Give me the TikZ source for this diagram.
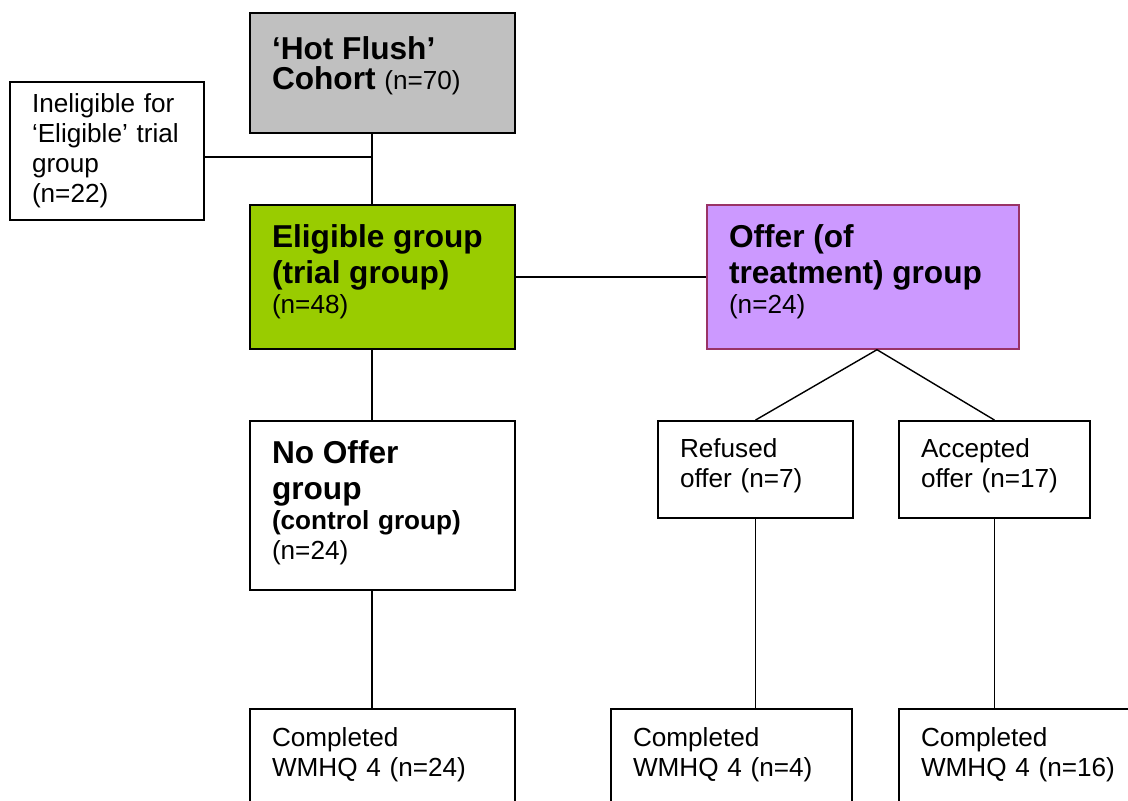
\documentclass[tikz,border=0pt]{standalone}
\usepackage{fontspec}
\setmainfont{Liberation Sans}
\usetikzlibrary{positioning}
\newcommand{\hdfont}{\fontsize{22.5}{25.6}\selectfont\bfseries}
\newcommand{\txfont}{\fontsize{18.6}{21.3}\selectfont\mdseries}
\definecolor{cohortgrey}{HTML}{C0C0C0}
\definecolor{trialgreen}{HTML}{99CC00}
\definecolor{offerviolet}{HTML}{CC99FF}
\definecolor{offerrim}{HTML}{993366}

\begin{document}
\begin{tikzpicture}
	\tikzstyle{box} = [draw=black, line width=1.3pt, fill=white, align=left, inner xsep=0.55cm, inner ysep=0, font=\txfont]
	\tikzstyle{lift} = [execute at end node={\endgraf\vspace*{#1}}]
	\tikzstyle{line} = [draw, line width=1pt]
	\useasboundingbox (0,0) rectangle (28.2,20);
	\clip (0,0) rectangle (28.2,20);
	% groups
	\node [box, lift=0.35cm, fill=cohortgrey, text width=5.525cm, minimum height=3cm] (v1) at (9.5625,18.175) {\hdfont ‘Hot Flush’\\Cohort {\txfont (n=70)}};
	\node [box, text width=3.75cm, minimum height=3.45cm] (v2) at (2.675,16.225) {Ineligible for\\‘Eligible’ trial\\group\\(n=22)};
	\node [box, lift=0.25cm, fill=trialgreen, text width=5.525cm, minimum height=3.6cm] (v3) at (9.5625,13.075) {\hdfont Eligible group\\(trial group)\\\txfont (n=48)};
	\node [box, lift=0.25cm, fill=offerviolet, draw=offerrim, line width=1pt, text width=6.7cm, minimum height=3.6cm] (v4) at (21.575,13.075) {\hdfont Offer (of\\treatment) group\\\txfont (n=24)};
	\node [box, lift=0.15cm, text width=5.525cm, minimum height=4.225cm] (v5) at (9.5625,7.3625) {\hdfont No Offer\\group\\\txfont\bfseries (control group)\\\mdseries (n=24)};
	\node [box, lift=0.2cm, text width=3.775cm, minimum height=2.425cm] (v6) at (18.8875,8.2625) {Refused\\offer (n=7)};
	\node [box, lift=0.2cm, text width=3.675cm, minimum height=2.425cm] (v7) at (24.8625,8.2625) {Accepted\\offer (n=17)};
	% completed questionnaire
	\node [box, lift=0.15cm, text width=5.525cm, minimum height=2.45cm] (v8) at (9.5625,1.05) {Completed\\WMHQ 4 (n=24)};
	\node [box, lift=0.15cm, text width=4.925cm, minimum height=2.45cm] (v9) at (18.2875,1.05) {Completed\\WMHQ 4 (n=4)};
	\node [box, lift=0.15cm, text width=4.925cm, minimum height=2.45cm] (v10) at (25.4875,1.05) {Completed\\WMHQ 4 (n=16)};
	% links
	\coordinate (v11) at (9.3,16.075);
	\coordinate (v12) at (21.925,0);
	\draw [line] (v1.south -| v11) -- (v3.north -| v11);
	\draw [line] (v2.east |- v11) -- (v11);
	\draw [line] (v3) -- (v4);
	\draw [line] (v3.south -| v11) -- (v5.north -| v11);
	\draw [line] (v5.south -| v11) -- (v8.north -| v11);
	\draw [line] (v4.south -| v12) -- (v6.north);
	\draw [line] (v4.south -| v12) -- (v7.north);
	\draw [line] (v6.south) -- (v6.south |- v9.north);
	\draw [line] (v7.south) -- (v7.south |- v10.north);
\end{tikzpicture}
\end{document}
